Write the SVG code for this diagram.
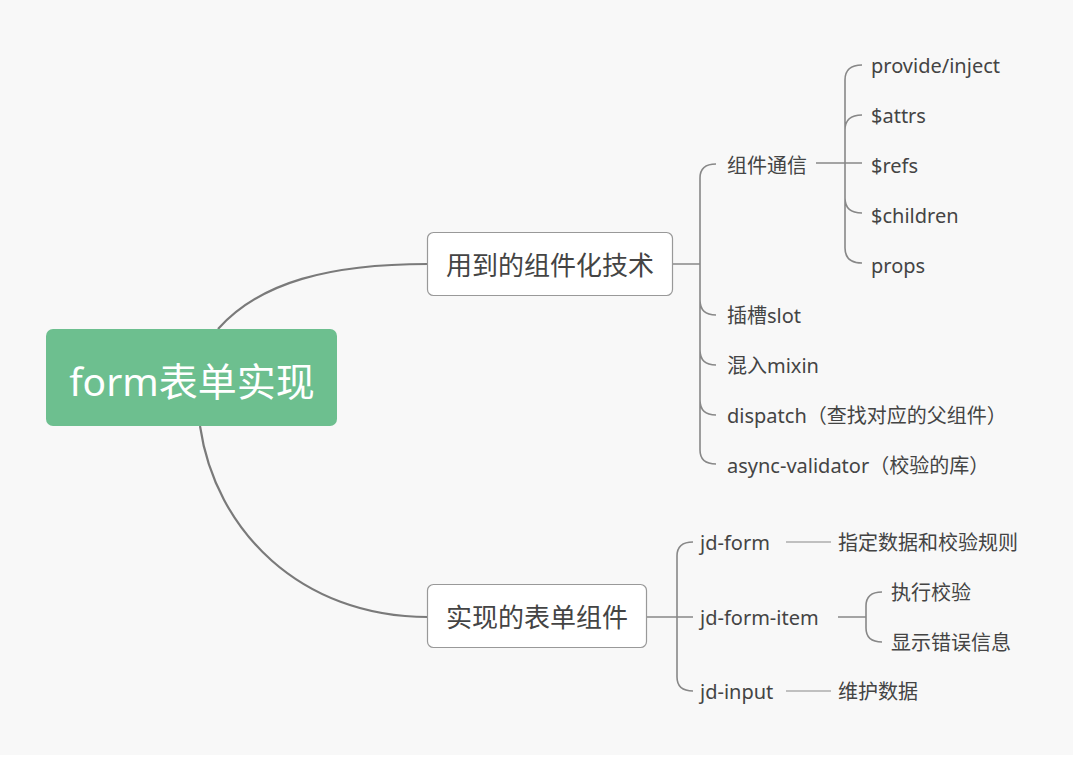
<svg xmlns="http://www.w3.org/2000/svg" width="1079" height="759" viewBox="0 0 1079 759">
<style>
.t{font-family:"Noto Sans","Noto Sans CJK SC",sans-serif;fill:#444;font-size:20px;dominant-baseline:central}
.b{font-size:26px}
.main{stroke:#7a7a7a;stroke-width:2.2;fill:none}
.c{stroke:#888;stroke-width:1.6;fill:none}
.thin{stroke:#888;stroke-width:1.2;fill:none}
.box{fill:#fff;stroke:#999;stroke-width:1.2}
</style>
<rect width="1079" height="759" fill="#fff"/>
<rect width="1073" height="755" fill="#f8f8f8"/>
<g id="connectors">
<path class="main" d="M218,329 C260,282 330,264 428,264"/>
<path class="main" d="M200,426 C215,530 300,617 428,617"/>
<path class="c" d="M672,264 H700 M700,264 V178 Q700,164 716,164 M700,264 V300 Q700,315 716,315 M700,300 V350 Q700,365 716,365 M700,350 V400 Q700,415 716,415 M700,400 V450 Q700,464 716,464"/>
<path class="c" d="M816,163 H845 M845,163 V80 Q845,65 862,65 M845,130 Q845,115 862,115 M845,163 H862 M845,163 V198 Q845,213 862,213 M845,163 V248 Q845,263 862,263"/>
<path class="c" d="M646,617 H677 M677,617 V556 Q677,542 693,542 M677,617 H693 M677,617 V677 Q677,691 693,691"/>
<path class="thin" d="M786,542 H831 M786,691 H831"/>
<path class="c" d="M838,617 H866 M866,617 V606 Q866,592 882,592 M866,617 V628 Q866,642 882,642"/>
</g>
<g id="root">
<rect x="46" y="329" width="291" height="97" rx="7" fill="#6dbf8f"/>
<text x="192" y="380" text-anchor="middle" style="font-family:'Noto Sans','Noto Sans CJK SC',sans-serif;font-size:39px;fill:#fff;dominant-baseline:central">form表单实现</text>
</g>
<g id="branch1">
<rect class="box" x="427.5" y="232.5" width="245" height="63" rx="6"/>
<text class="t b" x="550" y="265" text-anchor="middle">用到的组件化技术</text>
</g>
<g id="branch2">
<rect class="box" x="427.5" y="584.5" width="219" height="63" rx="6"/>
<text class="t b" x="537" y="617" text-anchor="middle">实现的表单组件</text>
</g>
<g id="n-comm"><text class="t" x="727" y="165">组件通信</text></g>
<g id="n-provide"><text class="t" x="871" y="65">provide/inject</text></g>
<g id="n-attrs"><text class="t" x="871" y="115">$attrs</text></g>
<g id="n-refs"><text class="t" x="871" y="165">$refs</text></g>
<g id="n-children"><text class="t" x="871" y="215">$children</text></g>
<g id="n-props"><text class="t" x="871" y="265">props</text></g>
<g id="n-slot"><text class="t" x="727" y="315">插槽slot</text></g>
<g id="n-mixin"><text class="t" x="727" y="365">混入mixin</text></g>
<g id="n-dispatch"><text class="t" x="727" y="415">dispatch（查找对应的父组件）</text></g>
<g id="n-async"><text class="t" x="727" y="465">async-validator（校验的库）</text></g>
<g id="n-jdform"><text class="t" x="700" y="542">jd-form</text></g>
<g id="n-jdform-desc"><text class="t" x="838" y="542">指定数据和校验规则</text></g>
<g id="n-jdformitem"><text class="t" x="700" y="617">jd-form-item</text></g>
<g id="n-validate"><text class="t" x="891" y="592">执行校验</text></g>
<g id="n-error"><text class="t" x="891" y="642">显示错误信息</text></g>
<g id="n-jdinput"><text class="t" x="700" y="691">jd-input</text></g>
<g id="n-jdinput-desc"><text class="t" x="838" y="691">维护数据</text></g>
</svg>
